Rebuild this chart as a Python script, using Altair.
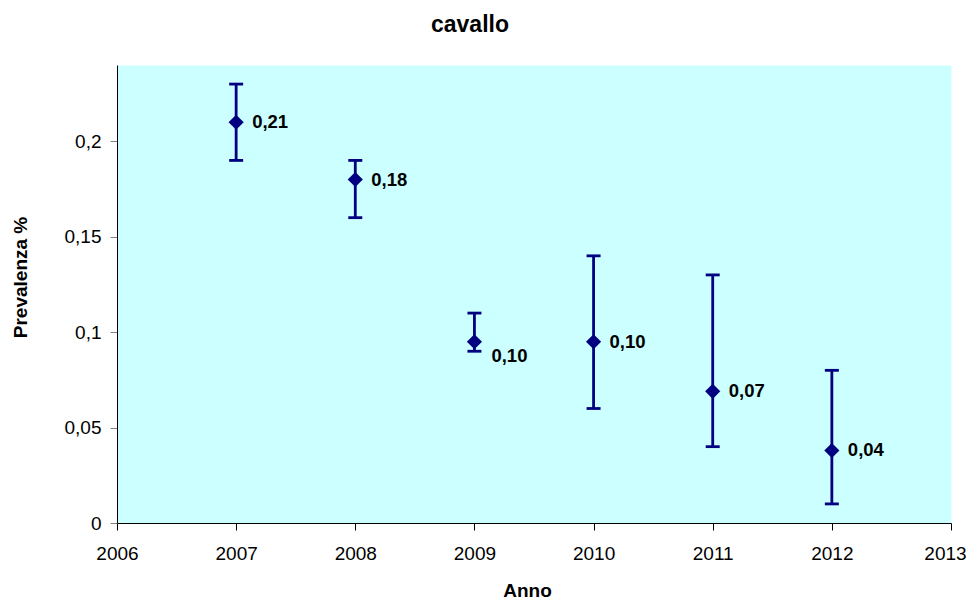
import altair as alt
import pandas as pd

years = [2007, 2008, 2009, 2010, 2011, 2012]
prevalence = [0.21, 0.18, 0.095, 0.095, 0.069, 0.038]
lower = [0.19, 0.16, 0.09, 0.06, 0.04, 0.01]
upper = [0.23, 0.19, 0.11, 0.14, 0.13, 0.08]
labels = ["0,21", "0,18", "0,10", "0,10", "0,07", "0,04"]

df = pd.DataFrame({"anno": years, "prev": prevalence, "lo": lower, "hi": upper, "lab": labels})

FONT = "Liberation Sans"
NAVY = "#000080"

x_axis = alt.Axis(values=list(range(2006, 2014)), format="d", title="Anno",
                  grid=False, domainColor="#000000", tickColor="#000000",
                  tickSize=7, labelPadding=14, labelFontSize=19, labelFont=FONT,
                  labelColor="#000000", titleFont=FONT, titleFontSize=19,
                  titleFontWeight="bold", titleColor="#000000",
                  titleX=410, titleY=58, titleBaseline="top",
                  labelOffset={"condition": {"test": "datum.value == 2013", "value": -6}, "value": 0},
                  labelFlush=False, labelOverlap=False)
xscale = alt.Scale(domain=[2006, 2013], nice=False, zero=False)
y_axis = alt.Axis(values=[0, 0.05, 0.1, 0.15, 0.2],
                  labelExpr="replace(toString(datum.value), '.', ',')",
                  title="Prevalenza %", grid=False, domainColor="#000000",
                  tickColor="#808080", tickSize=7, labelPadding=9, labelFontSize=19,
                  labelFont=FONT, labelColor="#000000", titleFont=FONT, titleFontSize=19,
                  titleFontWeight="bold", titleColor="#000000", titleX=-97, titleY=212,
                  titleAngle=-90, titleBaseline="middle", titleAlign="center")
yscale = alt.Scale(domain=[0, 0.24], nice=False)


def X():
    return alt.X("anno:Q", scale=xscale, axis=x_axis)


def Y(field):
    return alt.Y(field, type="quantitative", scale=yscale, axis=y_axis)


base = alt.Chart(df)

rules = base.mark_rule(color=NAVY, strokeWidth=2.8).encode(
    x=X(), y=Y("lo"), y2="hi:Q")
cap_lo = base.mark_tick(color=NAVY, thickness=2.8, size=14, orient="horizontal", opacity=1).encode(
    x=X(), y=Y("lo"))
cap_hi = base.mark_tick(color=NAVY, thickness=2.8, size=14, orient="horizontal", opacity=1).encode(
    x=X(), y=Y("hi"))
points = base.mark_point(shape="diamond", filled=True, size=230, color=NAVY, opacity=1).encode(
    x=X(), y=Y("prev"))
text_main = base.transform_filter("datum.anno != 2009").mark_text(
    align="left", baseline="middle", dx=16, dy=0, font=FONT, fontSize=18.5,
    fontWeight="bold", color="#000000").encode(
    x=X(), y=Y("prev"), text="lab:N")
text_2009 = base.transform_filter("datum.anno == 2009").mark_text(
    align="left", baseline="middle", dx=17, dy=14, font=FONT, fontSize=18.5,
    fontWeight="bold", color="#000000").encode(
    x=X(), y=Y("prev"), text="lab:N")

chart = alt.layer(rules, cap_lo, cap_hi, points, text_main, text_2009).properties(
    width=834, height=458,
    title=alt.TitleParams("cavallo", font=FONT, fontSize=23, fontWeight="bold",
                          color="#000000", anchor="middle", dx=-64, offset=28),
    autosize=alt.AutoSizeParams(type="none"),
    padding={"left": 109, "top": 57, "right": 17, "bottom": 76},
    background="#FFFFFF",
).configure_view(fill="#CCFFFF", stroke="transparent").configure_axis(
    labelFont=FONT, labelFontSize=19, titleFont=FONT, titleFontSize=19)

chart.save("out.html", embed_options={"renderer": "svg", "actions": False})
